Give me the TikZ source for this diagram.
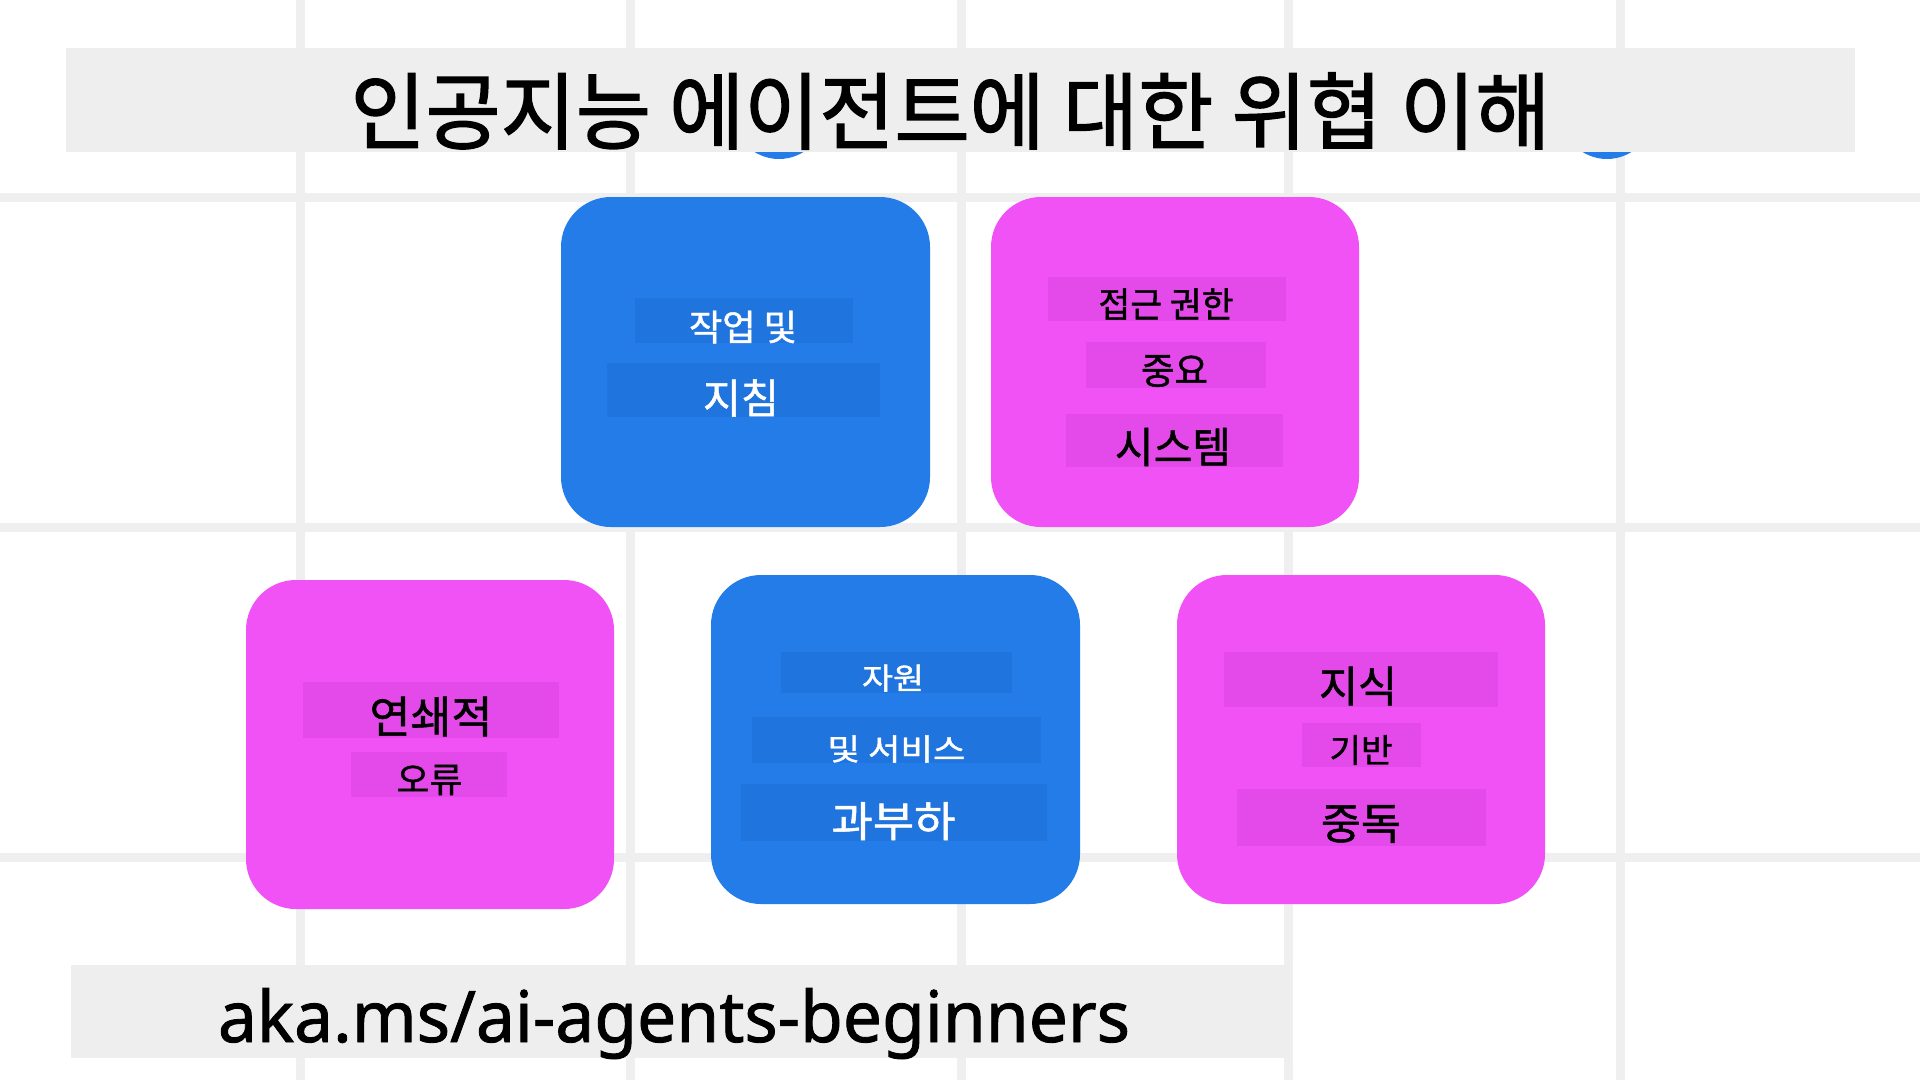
\documentclass[tikz,border=0pt]{standalone}
\usepackage{fontspec}
\usepackage{graphicx}
\newfontfamily\kr[FakeBold=1.2]{Noto Sans CJK KR}
\newfontfamily\krt[FakeBold=1.6]{Noto Sans CJK KR}
\newfontfamily\urlf[FakeBold=1.2]{Noto Sans}
\definecolor{gridc}{HTML}{EFEFEF}
\definecolor{titlebg}{HTML}{EEEEEE}
\definecolor{cblue}{HTML}{237CE8}
\definecolor{bblue}{HTML}{1F74DD}
\definecolor{cmag}{HTML}{F152F6}
\definecolor{bmag}{HTML}{E44AE9}
\newcommand\mylbl[3]{\resizebox{#1pt}{\height}{\fontsize{#2pt}{#2pt}\selectfont\kr #3}}
\tikzset{
  gridline/.style={draw=gridc, line width=9pt},
  card/.style={rectangle, rounded corners=50pt, inner sep=0pt},
  bluecard/.style={card, fill=cblue},
  magcard/.style={card, fill=cmag},
  bandb/.style={rectangle, inner sep=0pt, fill=bblue},
  bandm/.style={rectangle, inner sep=0pt, fill=bmag},
  wtxt/.style={inner sep=0pt, text=white},
  ktxt/.style={inner sep=0pt, text=black},
}
\begin{document}
\begin{tikzpicture}[x=1pt,y=-1pt]
\useasboundingbox (0,0) rectangle (1920,1080);
\fill[white] (0,0) rectangle (1920,1080);
% grid
\foreach \gx/\gn in {300.5/v1,630.5/v2,961.5/v3,1288.5/v4,1620/v5}{
  \coordinate (\gn t) at (\gx,0);
  \coordinate (\gn b) at (\gx,1080);
  \draw[gridline] (\gn t) -- (\gn b);
}
\foreach \gy/\gn in {197/h1,527/h2,857/h3}{
  \coordinate (\gn l) at (0,\gy);
  \coordinate (\gn r) at (1920,\gy);
  \draw[gridline] (\gn l) -- (\gn r);
}
% dots peeking under the title
\node[circle, fill=cblue, minimum size=92pt, inner sep=0pt] (dot1) at (779,113) {};
\node[circle, fill=cblue, minimum size=92pt, inner sep=0pt] (dot2) at (1607,113) {};
% title
\node[rectangle, fill=titlebg, inner sep=0pt, minimum width=1789pt, minimum height=104pt] (titlebox) at (960.5,100) {};
\node[ktxt] (title) at (950.5,111) {\resizebox{1200pt}{\height}{\fontsize{84pt}{84pt}\selectfont\krt 인공지능 에이전트에 대한 위협 이해}};
% cards
\node[bluecard, minimum width=369pt, minimum height=330pt] (c1) at (745.5,362) {};
\node[magcard, minimum width=368pt, minimum height=330pt] (c2) at (1175,362) {};
\node[magcard, minimum width=368pt, minimum height=329pt] (c3) at (430,744.5) {};
\node[bluecard, minimum width=369pt, minimum height=329pt] (c4) at (895.5,739.5) {};
\node[magcard, minimum width=368pt, minimum height=329pt] (c5) at (1361,739.5) {};
% bands
\node[bandb, minimum width=218pt, minimum height=45pt] (b11) at (744,320.5) {};
\node[bandb, minimum width=273pt, minimum height=54pt] (b12) at (743.5,390) {};
\node[bandm, minimum width=238pt, minimum height=44pt] (b21) at (1167,299) {};
\node[bandm, minimum width=180pt, minimum height=46pt] (b22) at (1176,365) {};
\node[bandm, minimum width=217pt, minimum height=53pt] (b23) at (1174.5,440.5) {};
\node[bandm, minimum width=256pt, minimum height=56pt] (b31) at (431,710) {};
\node[bandm, minimum width=156pt, minimum height=45pt] (b32) at (429,774.5) {};
\node[bandb, minimum width=231pt, minimum height=41pt] (b41) at (896.5,672.5) {};
\node[bandb, minimum width=289pt, minimum height=46pt] (b42) at (896.5,740) {};
\node[bandb, minimum width=306pt, minimum height=57pt] (b43) at (894,812.5) {};
\node[bandm, minimum width=274pt, minimum height=55pt] (b51) at (1361,679.5) {};
\node[bandm, minimum width=119pt, minimum height=44pt] (b52) at (1361.5,745) {};
\node[bandm, minimum width=249pt, minimum height=57pt] (b53) at (1361.5,817.5) {};
% labels
\node[wtxt] (t11) at (743,327) {\mylbl{108}{36}{작업 및}};
\node[wtxt] (t12) at (741,398) {\mylbl{76}{41}{지침}};
\node[ktxt] (t21) at (1166,304) {\mylbl{135}{35}{접근 권한}};
\node[ktxt] (t22) at (1174.5,371) {\mylbl{67}{37}{중요}};
\node[ktxt] (t23) at (1173,447) {\mylbl{116}{42}{시스템}};
\node[ktxt] (t31) at (431,716.5) {\mylbl{123}{44}{연쇄적}};
\node[ktxt] (t32) at (429.5,780) {\mylbl{66}{35}{오류}};
\node[wtxt] (t41) at (893,678) {\mylbl{62}{30}{자원}};
\node[wtxt] (t42) at (896.5,749) {\mylbl{138}{30}{및 서비스}};
\node[wtxt] (t43) at (893.5,821) {\mylbl{124}{42}{과부하}};
\node[ktxt] (t51) at (1358,686) {\mylbl{78}{43}{지식}};
\node[ktxt] (t52) at (1361,750) {\mylbl{63}{33}{기반}};
\node[ktxt] (t53) at (1361,824) {\mylbl{80}{43}{중독}};
% url
\node[rectangle, fill=titlebg, inner sep=0pt, minimum width=1219pt, minimum height=93pt] (urlbox) at (680.5,1011) {};
\node[ktxt, anchor=base] (url) at (674,1042) {\resizebox{912pt}{\height}{\fontsize{71pt}{71pt}\selectfont\urlf aka.ms/ai-agents-beginners}};
\end{tikzpicture}
\end{document}
